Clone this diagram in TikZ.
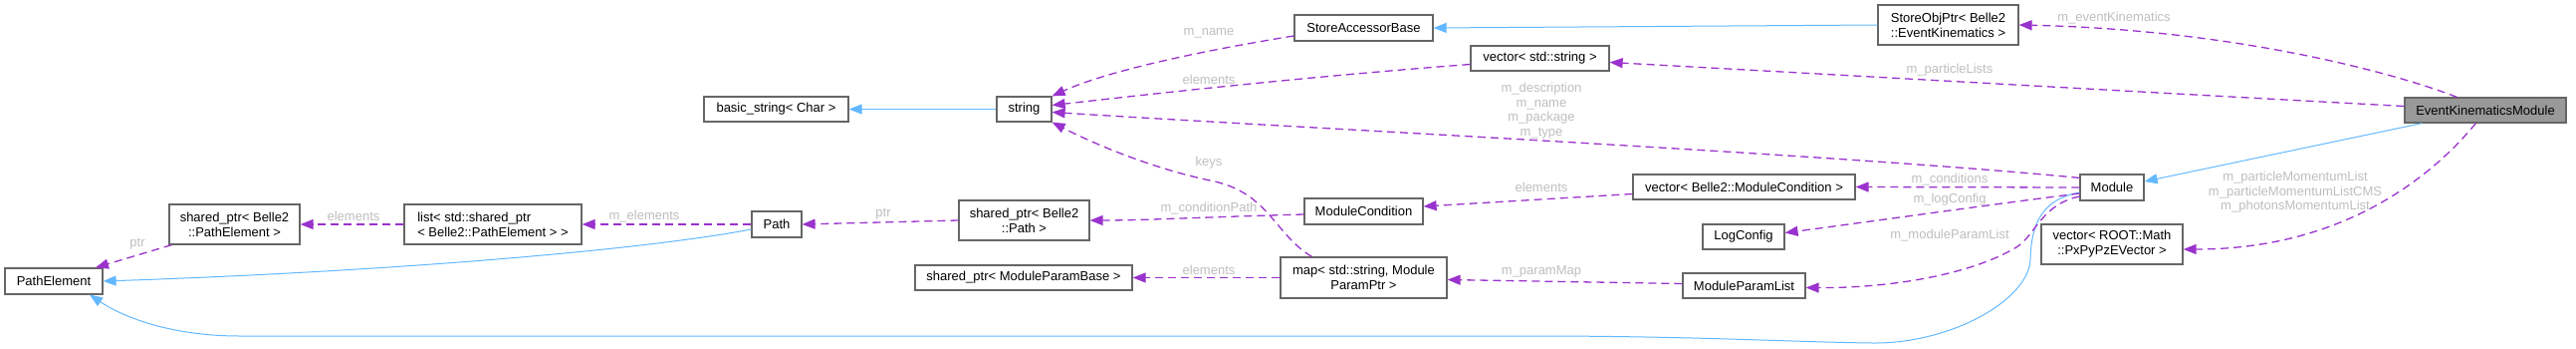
\documentclass[tikz,border=0pt]{standalone}
\usepackage{fontspec}
\setmainfont{Liberation Sans}
\usetikzlibrary{arrows.meta}
\definecolor{usepurple}{HTML}{9A32CD}
\definecolor{inhblue}{HTML}{63B8FF}
\definecolor{boxgray}{HTML}{666666}
\definecolor{lblgray}{HTML}{BEBEBE}
\definecolor{ekmfill}{HTML}{999999}
\tikzset{
  box/.style={draw=boxgray, line width=1.2pt, fill=white, inner sep=0pt,
    font=\fontsize{13}{15}\selectfont, align=center},
  usedge/.style={draw=usepurple, line width=1.3pt, dash pattern=on 8pt off 5pt,
    -{Triangle[length=13pt,width=10pt]}},
  inhedge/.style={draw=inhblue, line width=1.0pt,
    -{Triangle[length=13pt,width=10pt]}},
  lbl/.style={text=lblgray, font=\fontsize{13}{14.5}\selectfont, align=center, inner sep=0pt},
}
\begin{document}
\begin{tikzpicture}[x=1pt,y=-1pt]
\useasboundingbox (0,0) rectangle (2587,350);
% nodes
\node[box, minimum width=98pt, minimum height=26pt] (pe) at (54,282) {PathElement};
\node[box, minimum width=131pt, minimum height=40pt] (spPE) at (235.5,225) {shared\_ptr< Belle2\\::PathElement >};
\node[box, minimum width=178pt, minimum height=40pt, align=left] (list) at (495,225) {list< std::shared\_ptr\\< Belle2::PathElement > >};
\node[box, minimum width=50pt, minimum height=26pt] (path) at (780,225) {Path};
\node[box, minimum width=145pt, minimum height=25pt] (bstr) at (779.5,109.5) {basic\_string< Char >};
\node[box, minimum width=55pt, minimum height=25pt] (string) at (1028.5,109.5) {string};
\node[box, minimum width=131pt, minimum height=40pt] (spPath) at (1028.5,221) {shared\_ptr< Belle2\\::Path >};
\node[box, minimum width=218pt, minimum height=25pt] (spMPB) at (1028,278.5) {shared\_ptr< ModuleParamBase >};
\node[box, minimum width=139pt, minimum height=26pt] (sab) at (1369.5,28) {StoreAccessorBase};
\node[box, minimum width=119pt, minimum height=26pt] (mc) at (1369.5,212) {ModuleCondition};
\node[box, minimum width=167pt, minimum height=41pt] (map) at (1369.5,278.5) {map< std::string, Module\\ParamPtr >};
\node[box, minimum width=139pt, minimum height=25pt] (vecStr) at (1546.5,58.5) {vector< std::string >};
\node[box, minimum width=223pt, minimum height=25pt] (vecMC) at (1751.5,187.5) {vector< Belle2::ModuleCondition >};
\node[box, minimum width=82pt, minimum height=25pt] (logc) at (1751,237.5) {LogConfig};
\node[box, minimum width=123pt, minimum height=25pt] (mpl) at (1751.5,286.5) {ModuleParamList};
\node[box, minimum width=141pt, minimum height=40pt] (sop) at (1956.5,25) {StoreObjPtr< Belle2\\::EventKinematics >};
\node[box, minimum width=64pt, minimum height=26pt] (module) at (2121,188) {Module};
\node[box, minimum width=142pt, minimum height=40pt] (vecPx) at (2121,245) {vector< ROOT::Math\\::PxPyPzEVector >};
\node[box, fill=ekmfill, minimum width=162pt, minimum height=25pt] (ekm) at (2496,110.5) {EventKinematicsModule};

% inheritance edges
\draw[inhedge] (string.west) -- (bstr.east);
\draw[inhedge] ([shift={(0,5)}]path.west) .. controls (650,250) and (400,272) .. (pe.east);
\draw[inhedge] (sop.west) -- (sab.east);
\draw[inhedge] ([shift={(18,0)}]ekm.south west) -- ([shift={(0,-6)}]module.east);
\draw[inhedge] ([shift={(0,5)}]module.west) .. controls (2050,200) and (2040,225) .. (2039,260)
  .. controls (2038,300) and (1960,345) .. (1880,344)
  .. controls (1800,343) and (1700,337) .. (1540,337) -- (240,337)
  .. controls (180,337) and (130,322) .. ([shift={(36,0)}]pe.south);

% usage edges
\draw[usedge] ([shift={(3,0)}]spPE.south west) -- ([shift={(42,0)}]pe.north);
\draw[usedge] (list.west) -- (spPE.east);
\draw[usedge] (path.west) -- (list.east);
\draw[usedge] (spPath.west) -- (path.east);
\draw[usedge] ([shift={(0,3)}]mc.west) .. controls (1200,218) and (1150,221) .. (spPath.east);
\draw[usedge] ([shift={(0,8)}]sab.west) .. controls (1200,52) and (1110,72) .. (string.north east);
\draw[usedge] ([shift={(0,6)}]vecStr.west) .. controls (1300,78) and (1150,95) .. ([shift={(0,-4)}]string.east);
\draw[usedge] ([shift={(0,4)}]module.north west) .. controls (1850,155) and (1300,128) .. ([shift={(0,3)}]string.east);
\draw[usedge] ([shift={(32,0)}]map.north west) .. controls (1280,235) and (1275,195) .. (1220,182)
  .. controls (1160,170) and (1100,145) .. (string.south east);
\draw[usedge] ([shift={(0,7)}]vecMC.west) -- ([shift={(0,-5)}]mc.east);
\draw[usedge] (map.west) -- (spMPB.east);
\draw[usedge] ([shift={(0,-2)}]mpl.west) -- ([shift={(0,2)}]map.east);
\draw[usedge] (module.west) -- (vecMC.east);
\draw[usedge] ([shift={(0,6)}]module.west) .. controls (2000,205) and (1880,222) .. ([shift={(0,-4)}]logc.east);
\draw[usedge] ([shift={(0,9)}]module.west) .. controls (2050,205) and (2045,235) .. (2025,248)
  .. controls (1980,275) and (1900,289) .. ([shift={(0,2)}]mpl.east);
\draw[usedge] ([shift={(53,0)}]ekm.north west) .. controls (2410,75) and (2250,30) .. (sop.east);
\draw[usedge] ([shift={(0,-4)}]ekm.west) .. controls (2200,95) and (1900,78) .. ([shift={(0,4)}]vecStr.east);
\draw[usedge] ([shift={(72,0)}]ekm.south west) .. controls (2440,180) and (2350,250) .. ([shift={(0,5)}]vecPx.east);

% labels
\node[lbl] (l1) at (138,245) {ptr};
\node[lbl] (l2) at (355,217) {elements};
\node[lbl] (l3) at (647,217) {m\_elements};
\node[lbl] (l4) at (887,215) {ptr};
\node[lbl] (l5) at (1214,209) {m\_conditionPath};
\node[lbl] (l6) at (1214,33) {m\_name};
\node[lbl] (l7) at (1214,80) {elements};
\node[lbl] (l8) at (1548,111) {m\_description\\m\_name\\m\_package\\m\_type};
\node[lbl] (l9) at (1214,163) {keys};
\node[lbl] (l10) at (1214,271) {elements};
\node[lbl] (l11) at (1548,188) {elements};
\node[lbl] (l12) at (1548,272) {m\_paramMap};
\node[lbl] (l13) at (2123,18) {m\_eventKinematics};
\node[lbl] (l14) at (1958,70) {m\_particleLists};
\node[lbl] (l15) at (1958,180) {m\_conditions};
\node[lbl] (l16) at (1958,200) {m\_logConfig};
\node[lbl] (l17) at (1958,236) {m\_moduleParamList};
\node[lbl] (l18) at (2305,193) {m\_particleMomentumList\\m\_particleMomentumListCMS\\m\_photonsMomentumList};
\end{tikzpicture}
\end{document}
